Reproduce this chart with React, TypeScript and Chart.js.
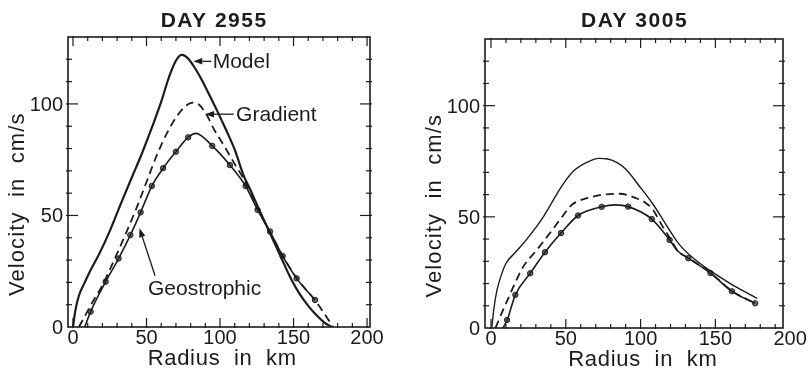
import React, { useEffect, useRef } from "react";
import { Chart, registerables } from "chart.js";

Chart.register(...registerables);

const FONT = '"Liberation Sans", Arial, Helvetica, sans-serif';
const INK = "#1c1c1c";

// ---------- DAY 2955 ----------
const titleA = "DAY 2955";
const modelXA = [0, 1.5, 4, 8, 12, 18, 25, 33, 40, 47, 54, 60, 64, 67, 69.5, 72, 74, 76, 79, 83, 87, 92, 98, 104, 110, 116, 121, 126, 134, 142, 148, 154, 160, 166, 171, 176];
const modelYA = [0, 7, 14, 20, 25.5, 33, 43, 56, 67, 78, 90, 101, 109.5, 115, 118.8, 121.3, 122, 121.6, 119.8, 116, 111.5, 105, 97, 88.5, 79.5, 68, 61, 53.5, 42, 30.5, 22, 15, 9.5, 5, 2, 0];
const gradXA = [4, 9, 14, 19, 27, 36, 43, 50, 57, 64, 70.5, 77, 81.5, 86, 91, 96, 103, 110, 116, 121, 126, 134, 142.6, 152, 164.6, 177];
const gradYA = [0, 6, 12, 17.5, 28.5, 42, 53, 65, 77, 87, 94.3, 99.3, 100.6, 99.5, 95, 88.5, 81, 73, 66.5, 60, 52.5, 42.5, 32, 22, 12, 0];
const geoXA = [8, 12, 22.2, 31, 39, 46, 53.6, 61.3, 70, 78.3, 83.5, 94.7, 106.7, 117.4, 125.5, 134, 142.6, 152.1, 164.6];
const geoYA = [0, 6.9, 20.3, 30.7, 41.2, 51.4, 63.2, 71.2, 78.6, 85, 86.8, 81.2, 72.6, 63.2, 52.5, 42.8, 31.8, 21.8, 12.1];
const dotXA = [12, 22.2, 31, 39, 46, 53.6, 61.3, 70, 78.3, 94.7, 106.7, 117.4, 125.5, 134, 142.6, 152.1, 164.6];
const dotYA = [6.9, 20.3, 30.7, 41.2, 51.4, 63.2, 71.2, 78.6, 85, 81.2, 72.6, 63.2, 52.5, 42.8, 31.8, 21.8, 12.1];

// labels with arrows (data coordinates)
const noteText = ["Model", "Gradient", "Geostrophic"];
const noteX = [95, 110.9, 51];
const noteY = [116, 92.5, 14.3];
const arrowFromX = [94, 109.3, 55.8];
const arrowFromY = [119.1, 95.4, 23];
const arrowToX = [81.8, 89.8, 45.2];
const arrowToY = [119.1, 95.4, 44.3];

// ---------- DAY 3005 ----------
const titleB = "DAY 3005";
const modelXB = [0.5, 2, 4, 7, 10, 17, 24, 35, 47, 55, 64, 72, 78, 84, 90, 99, 108, 117, 126, 136, 146, 160, 178];
const modelYB = [0, 9, 17, 24, 29, 34.5, 40, 50, 63.5, 70.5, 74.5, 76.3, 76, 74.5, 71.5, 64, 56, 46.5, 37.5, 31, 26, 20, 13.3];
const gradXB = [3, 8, 12, 15, 21.6, 30.5, 39.4, 46, 54, 58, 62, 75, 86, 97, 103, 108.5, 114, 120, 125, 132, 146.4, 161, 176.5];
const gradYB = [0, 8, 14, 18.6, 27.6, 35, 42.7, 48.6, 55.4, 57, 58, 60, 60.4, 58.4, 56.5, 53, 46.5, 40, 34.5, 31.5, 25, 16.7, 11.1];
const geoXB = [8, 10.8, 16.3, 26.2, 36.1, 46.8, 58.2, 74, 83, 91.7, 107.5, 119.4, 125, 131.9, 146.7, 161, 176.6];
const geoYB = [0, 3.6, 14.9, 24.6, 34.1, 42.7, 50.6, 54.5, 55.4, 54.6, 49, 39.6, 34.5, 31.4, 24.7, 16.5, 11.1];
const dotXB = [10.8, 16.3, 26.2, 36.1, 46.8, 58.2, 74, 91.7, 107.5, 119.4, 131.9, 146.7, 161, 176.6];
const dotYB = [3.6, 14.9, 24.6, 34.1, 42.7, 50.6, 54.5, 54.6, 49, 39.6, 31.4, 24.7, 16.5, 11.1];

// ---------- axes ----------
const xTickLabels = [0, 50, 100, 150, 200];
const yTickLabels = [0, 50, 100];
const xTitle = "Radius  in  km";
const yTitle = "Velocity  in  cm/s";

const zip = (xs: number[], ys: number[]) => xs.map((x, i) => ({ x, y: ys[i] }));

function text(ctx: any, s: string, x: number, y: number, font: string, align: string, baseline: string, spacing: string) {
  ctx.font = font;
  ctx.textAlign = align;
  ctx.textBaseline = baseline;
  ctx.letterSpacing = spacing;
  ctx.fillText(s, x, y);
  ctx.letterSpacing = "0px";
}

function arrow(ctx: any, x1: number, y1: number, x2: number, y2: number) {
  const ang = Math.atan2(y2 - y1, x2 - x1);
  const hl = 9, hw = 3.2;
  const bx = x2 - hl * Math.cos(ang), by = y2 - hl * Math.sin(ang);
  ctx.beginPath();
  ctx.moveTo(x1, y1);
  ctx.lineTo(bx, by);
  ctx.lineWidth = 1.3;
  ctx.stroke();
  ctx.beginPath();
  ctx.moveTo(x2, y2);
  ctx.lineTo(bx + hw * Math.sin(ang), by - hw * Math.cos(ang));
  ctx.lineTo(bx - hw * Math.sin(ang), by + hw * Math.cos(ang));
  ctx.closePath();
  ctx.fill();
}

const framePlugin = {
  id: "frameDecor",
  afterDraw(chart: any, _a: any, opts: any) {
    const { ctx, chartArea: a, scales } = chart;
    const xs = scales.x, ys = scales.y;
    ctx.save();
    ctx.strokeStyle = INK;
    ctx.fillStyle = INK;
    ctx.lineWidth = 1.6;
    ctx.strokeRect(a.left, a.top, a.right - a.left, a.bottom - a.top);
    ctx.lineWidth = 1.2;
    const seg = (x1: number, y1: number, x2: number, y2: number) => {
      ctx.beginPath();
      ctx.moveTo(x1, y1);
      ctx.lineTo(x2, y2);
      ctx.stroke();
    };
    for (let v = 0; v <= xs.max + 0.01; v += 10) {
      const p = xs.getPixelForValue(v);
      const len = v % 50 === 0 ? 9 : 4;
      seg(p, a.bottom + 1, p, a.bottom - len);
      seg(p, a.top - 1, p, a.top + len);
    }
    for (let v = 10; v <= ys.max - 0.01; v += 10) {
      const p = ys.getPixelForValue(v);
      const major = v % 50 === 0;
      seg(a.left - 2, p, a.left + (major ? 10 : 4), p);
      seg(a.right + 2, p, a.right - (major ? 10 : 4), p);
    }
    const tickFont = `20px ${FONT}`;
    xTickLabels.forEach((v) => {
      text(ctx, String(v), xs.getPixelForValue(v), a.bottom + 17, tickFont, "center", "alphabetic", "0px");
    });
    yTickLabels.forEach((v) => {
      text(ctx, String(v), a.left - 5, ys.getPixelForValue(v) + 7, tickFont, "right", "alphabetic", "0px");
    });
    // panel title
    text(ctx, opts.title, xs.getPixelForValue(96), 27, `bold 21px ${FONT}`, "center", "alphabetic", "1.5px");
    // axis titles
    text(ctx, xTitle, xs.getPixelForValue(101.5), a.bottom + 38, `22px ${FONT}`, "center", "alphabetic", "0.7px");
    ctx.save();
    ctx.translate(a.left - 50, ys.getPixelForValue(55));
    ctx.rotate(-Math.PI / 2);
    text(ctx, yTitle, 0, 0, `22px ${FONT}`, "center", "middle", "1.1px");
    ctx.restore();
    // annotations
    if (opts.notes) {
      noteText.forEach((s, i) => {
        text(ctx, s, xs.getPixelForValue(noteX[i]), ys.getPixelForValue(noteY[i]), `21px ${FONT}`, "left", "alphabetic", "0px");
        arrow(
          ctx,
          xs.getPixelForValue(arrowFromX[i]),
          ys.getPixelForValue(arrowFromY[i]),
          xs.getPixelForValue(arrowToX[i]),
          ys.getPixelForValue(arrowToY[i])
        );
      });
    }
    ctx.restore();
  },
};

type PanelProps = {
  title: string;
  model: { x: number; y: number }[];
  grad: { x: number; y: number }[];
  geo: { x: number; y: number }[];
  dots: { x: number; y: number }[];
  xMin: number;
  xMax: number;
  pad: { left: number; right: number; top: number; bottom: number };
  modelWidth: number;
  notes: boolean;
};

function Panel(p: PanelProps) {
  const ref = useRef<HTMLCanvasElement>(null);
  useEffect(() => {
    if (!ref.current) return;
    const chart = new Chart(ref.current, {
      type: "line",
      data: {
        datasets: [
          {
            label: "Model",
            data: p.model,
            borderColor: INK,
            borderWidth: p.modelWidth,
            pointRadius: 0,
            cubicInterpolationMode: "monotone",
            fill: false,
          },
          {
            label: "Gradient",
            data: p.grad,
            borderColor: INK,
            borderWidth: 1.8,
            borderDash: [8, 5],
            pointRadius: 0,
            cubicInterpolationMode: "monotone",
            fill: false,
          },
          {
            label: "Geostrophic",
            data: p.geo,
            borderColor: INK,
            borderWidth: 1.6,
            pointRadius: 0,
            cubicInterpolationMode: "monotone",
            fill: false,
          },
          {
            label: "Geostrophic stations",
            data: p.dots,
            showLine: false,
            pointRadius: 2.7,
            pointBackgroundColor: "#6e6e6e",
            pointBorderColor: INK,
            pointBorderWidth: 1,
          },
        ],
      } as any,
      options: {
        responsive: false,
        animation: false,
        layout: { padding: p.pad },
        scales: {
          x: { type: "linear", display: false, min: p.xMin, max: p.xMax },
          y: { type: "linear", display: false, min: 0, max: 130 },
        },
        plugins: {
          legend: { display: false },
          tooltip: { enabled: false },
          frameDecor: { title: p.title, notes: p.notes },
        } as any,
      },
      plugins: [framePlugin as any],
    });
    return () => chart.destroy();
  }, []);
  return <canvas ref={ref} width={406} height={379} style={{ display: "block", width: 406, height: 379 }} />;
}

export default function App() {
  return (
    <div
      style={{
        position: "absolute",
        left: 0,
        top: 0,
        width: 812,
        height: 379,
        background: "#fff",
        display: "flex",
      }}
    >
      <Panel
        title={titleA}
        model={zip(modelXA, modelYA)}
        grad={zip(gradXA, gradYA)}
        geo={zip(geoXA, geoYA)}
        dots={zip(dotXA, dotYA)}
        xMin={-3.4}
        xMax={202}
        pad={{ left: 68, right: 36, top: 37, bottom: 52 }}
        modelWidth={2.2}
        notes={true}
      />
      <Panel
        title={titleB}
        model={zip(modelXB, modelYB)}
        grad={zip(gradXB, gradYB)}
        geo={zip(geoXB, geoYB)}
        dots={zip(dotXB, dotYB)}
        xMin={-4}
        xMax={195.2}
        pad={{ left: 79, right: 29, top: 39, bottom: 51 }}
        modelWidth={1.4}
        notes={false}
      />
    </div>
  );
}
